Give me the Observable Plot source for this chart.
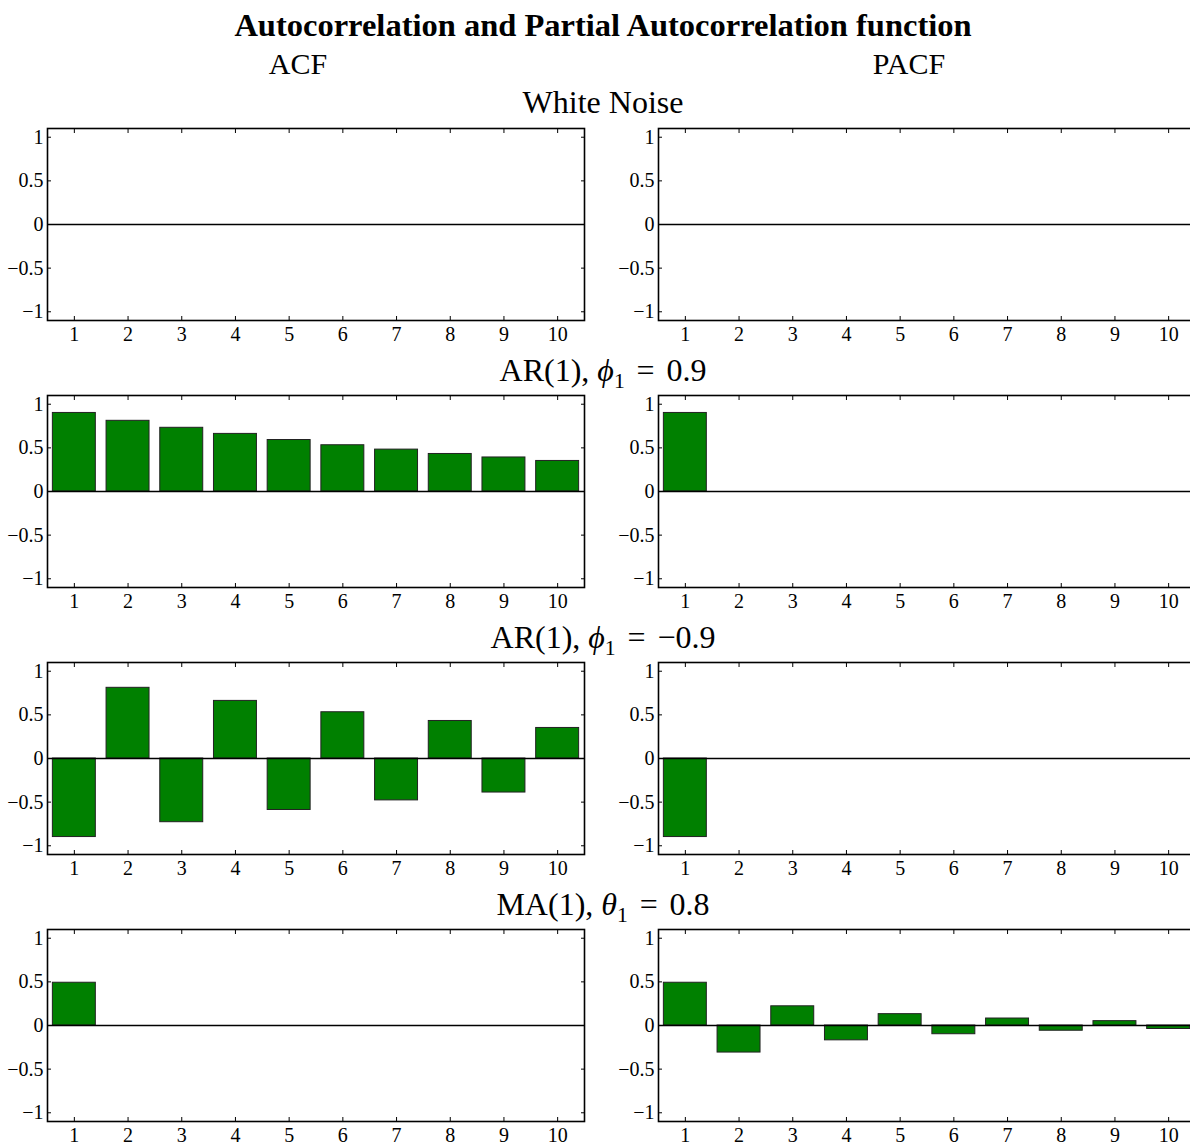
<!DOCTYPE html>
<html><head><meta charset="utf-8">
<script src="https://cdn.jsdelivr.net/npm/d3@7"></script>
<script src="https://cdn.jsdelivr.net/npm/@observablehq/plot@0.6"></script>
<style>
body{margin:0;width:1190px;height:1144px;overflow:hidden;background:#fff;font-family:"Liberation Serif",serif;}
#root{position:relative;width:1190px;height:1144px;overflow:hidden;}
.t{position:absolute;transform:translate(-50%,-50%);white-space:nowrap;color:#000;line-height:1;font-family:"Liberation Serif",serif;}
.t sub{font-size:0.68em;vertical-align:-0.3em;line-height:0;}
.t .eq{margin:0 0.12em;}
.p{position:absolute;overflow:visible;}
.p svg{max-width:none !important;overflow:visible;}
.p svg, .p svg text{font-family:"Liberation Serif",serif !important;font-size:20px !important;}
</style></head><body><div id="root"></div>
<script>
// ---- data ----
const mainTitle = "Autocorrelation and Partial Autocorrelation function";
const colTitles = ["ACF", "PACF"];
const rowTitles = [
  "White Noise",
  "AR(1), <i>ϕ</i><sub>1</sub> <span class='eq'>=</span> 0.9",
  "AR(1), <i>ϕ</i><sub>1</sub> <span class='eq'>=</span> −0.9",
  "MA(1), <i>θ</i><sub>1</sub> <span class='eq'>=</span> 0.8"
];
const lags = [1, 2, 3, 4, 5, 6, 7, 8, 9, 10];
const xTickLabels = ["1", "2", "3", "4", "5", "6", "7", "8", "9", "10"];
const yTicks = [-1, -0.5, 0, 0.5, 1];
const yTickLabels = ["−1", "−0.5", "0", "0.5", "1"];

const wnACF   = [0, 0, 0, 0, 0, 0, 0, 0, 0, 0];
const wnPACF  = [0, 0, 0, 0, 0, 0, 0, 0, 0, 0];
const arPosACF  = [0.90, 0.81, 0.73, 0.66, 0.59, 0.53, 0.48, 0.43, 0.39, 0.35];
const arPosPACF = [0.90, 0, 0, 0, 0, 0, 0, 0, 0, 0];
const arNegACF  = [-0.90, 0.81, -0.73, 0.66, -0.59, 0.53, -0.48, 0.43, -0.39, 0.35];
const arNegPACF = [-0.90, 0, 0, 0, 0, 0, 0, 0, 0, 0];
const maACF   = [0.49, 0, 0, 0, 0, 0, 0, 0, 0, 0];
const maPACF  = [0.49, -0.31, 0.22, -0.17, 0.13, -0.10, 0.08, -0.06, 0.05, -0.04];

const series = [
  [wnACF, wnPACF],
  [arPosACF, arPosPACF],
  [arNegACF, arNegPACF],
  [maACF, maPACF]
];

// ---- layout ----
const root = document.getElementById("root");
const yLabel = new Map(yTicks.map((d, i) => [d, yTickLabels[i]]));
const xLabel = new Map(lags.map((d, i) => [d, xTickLabels[i]]));

function addText(html, x, y, size, bold) {
  const el = document.createElement("div");
  el.className = "t";
  el.innerHTML = html;
  el.style.left = x + "px";
  el.style.top = y + "px";
  el.style.fontSize = size + "px";
  if (bold) el.style.fontWeight = "bold";
  root.appendChild(el);
}

addText(mainTitle, 603, 25, 32.5, true);
addText(colTitles[0], 298, 64, 30, false);
addText(colTitles[1], 909, 64, 30, false);

const rowTitleY = [102, 370, 637, 904];
const frameTop = [128, 395, 662, 929];
const colLeft = [47, 658];
const mL = 47, mT = 10, mB = 32, mR = 12, innerW = 537, innerH = 192;

series.forEach((pair, r) => {
  addText(rowTitles[r], 603, rowTitleY[r], 32, false);
  pair.forEach((vals, c) => {
    const data = lags.map((lag, i) => ({lag, value: vals[i]}));
    const chart = Plot.plot({
      width: mL + innerW + mR,
      height: mT + innerH + mB,
      marginLeft: mL, marginRight: mR, marginTop: mT, marginBottom: mB,
      style: {fontFamily: "'Liberation Serif', serif", fontSize: "20px", background: "transparent", overflow: "visible", color: "#000", maxWidth: "none"},
      x: {domain: [0.5, 10.5]},
      y: {domain: [-1.1, 1.1]},
      marks: [
        Plot.rectY(data, {x1: d => d.lag - 0.4, x2: d => d.lag + 0.4, y1: 0, y2: "value",
          fill: "#008000", stroke: "#222", strokeWidth: 1}),
        Plot.ruleY([0], {stroke: "#000", strokeWidth: 1.4}),
        Plot.frame({stroke: "#000", strokeWidth: 1.6}),
        Plot.axisX(lags, {anchor: "bottom", tickSize: -4, fill: "none", label: null}),
        Plot.axisX(lags, {anchor: "top", tickSize: -4, fill: "none", label: null}),
        Plot.axisX(lags, {anchor: "bottom", tickSize: 0, tickPadding: 6, stroke: "none", label: null, tickFormat: d => xLabel.get(d)}),
        Plot.axisY(yTicks, {anchor: "left", tickSize: -4, fill: "none", label: null}),
        Plot.axisY(yTicks, {anchor: "right", tickSize: -4, fill: "none", label: null}),
        Plot.axisY(yTicks, {anchor: "left", tickSize: 0, tickPadding: 4, stroke: "none", label: null, tickFormat: d => yLabel.get(d)})
      ]
    });
    const wrap = document.createElement("div");
    wrap.className = "p";
    wrap.style.left = (colLeft[c] - mL) + "px";
    wrap.style.top = (frameTop[r] - mT) + "px";
    wrap.style.width = (mL + innerW + mR) + "px";
    wrap.appendChild(chart);
    root.appendChild(wrap);
  });
});
</script>
</body></html>
